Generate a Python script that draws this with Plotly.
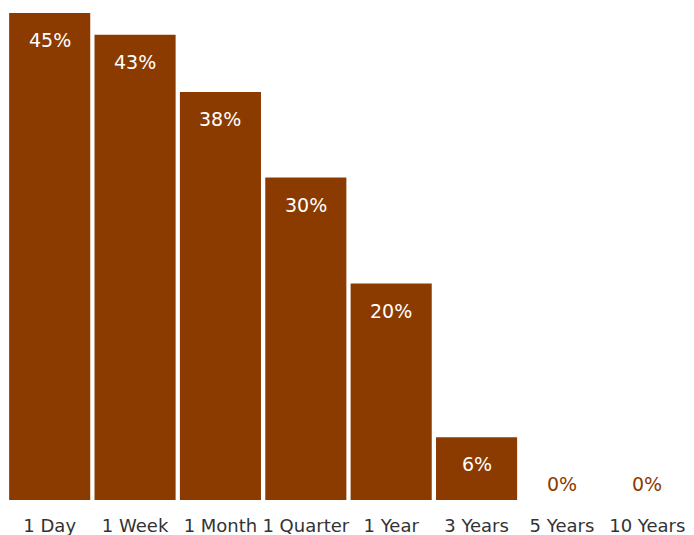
import plotly.graph_objects as go

categories = ["1 Day", "1 Week", "1 Month", "1 Quarter", "1 Year", "3 Years", "5 Years", "10 Years"]
values = [45.0, 43.0, 37.7, 29.8, 20.0, 5.8, 0.0, 0.0]
labels = [f"{round(v)}%" for v in values]

BAR = "#8B3B00"
FONT = "DejaVu Sans, sans-serif"

fig = go.Figure(go.Bar(x=categories, y=values, marker_color=BAR, marker_line_width=0, hoverinfo="skip"))

for c, v, t in zip(categories, values, labels):
    if v > 0:
        fig.add_annotation(x=c, y=v, text=t, showarrow=False, yanchor="top", yshift=-14,
                           font=dict(color="white", size=19, family=FONT))
    else:
        fig.add_annotation(x=c, y=0, text=t, showarrow=False, yanchor="bottom", yshift=3,
                           font=dict(color=BAR, size=19, family=FONT))

fig.update_layout(
    width=694, height=535,
    margin=dict(l=7, r=4, t=13, b=35),
    bargap=0.05,
    plot_bgcolor="white", paper_bgcolor="white",
    showlegend=False,
    font=dict(family=FONT, color="#333333", size=18),
    xaxis=dict(showgrid=False, showline=False, zeroline=False, ticks="", automargin=False,
               ticklabelstandoff=13, tickfont=dict(size=18, color="#333333")),
    yaxis=dict(visible=False, range=[0, 45], showgrid=False, zeroline=False),
)

fig.write_html("out.html", config={"displayModeBar": False},
               post_script="document.body.style.margin='0';")
